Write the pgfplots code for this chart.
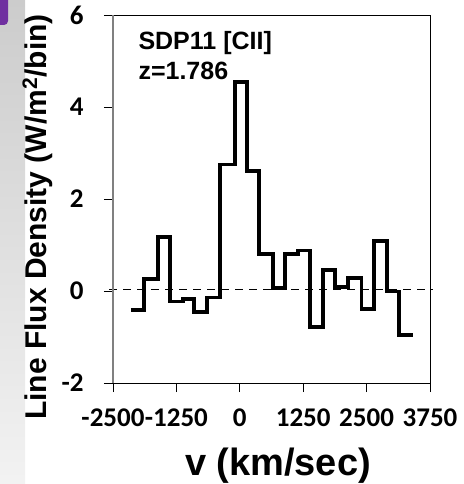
\documentclass[border=0pt]{standalone}
\usepackage{fontspec}
\setmainfont{Liberation Sans}
\newfontfamily\calibri{Carlito}
\usepackage{pgfplots}
\pgfplotsset{compat=1.18}
\definecolor{slidepurple}{RGB}{112,48,160}
\begin{document}
\begin{tikzpicture}
\useasboundingbox (0,0) rectangle (464bp,484bp);
\shade[top color=black!20, bottom color=black!5] (0,0) rectangle (25bp,484bp);
\fill[slidepurple, rounded corners=4bp] (-6bp,459bp) rectangle (8bp,490bp);
\begin{axis}[
  at={(113bp,101bp)}, anchor=south west,
  scale only axis, width=317bp, height=368bp,
  xmin=-2500, xmax=3750, ymin=-2, ymax=6,
  xtick={-2500,-1250,0,1250,2500,3750},
  xticklabels={-2500,-1250,0,1250,2500,3750},
  ytick={-2,0,2,4,6},
  yticklabels={-2,0,2,4,6},
  tick align=outside, major tick length=9bp,
  xtick pos=lower, ytick pos=left,
  tick style={black, line width=1bp},
  axis line style={black, line width=1bp},
  ticklabel style={font=\calibri\bfseries\fontsize{27bp}{32bp}\selectfont},
  xticklabel style={yshift=-13bp},
  yticklabel style={xshift=-17bp},
  clip=false,
]
\addplot[black, line width=3.8bp, const plot, line join=miter] coordinates {
(-2149,-0.41) (-1893,0.26) (-1617,1.17) (-1380,-0.23) (-1124,-0.18)
(-907,-0.46) (-650,-0.14) (-394,2.75) (-99,4.54) (138,2.61)
(375,0.80) (650,0.07) (887,0.80) (1143,0.88) (1380,-0.78)
(1636,0.45) (1873,0.08) (2130,0.28) (2400,-0.39) (2643,1.08)
(2898,-0.01) (3134,-0.95) (3410,-0.95)};
\addplot[black, line width=1.3bp, dash pattern=on 8bp off 6bp] coordinates {(-2570,0.04) (3810,0.04)};
\draw[gray, line width=1.5bp] (rel axis cs:0,0) -- (rel axis cs:0,1);
\end{axis}
\node[anchor=base west, font=\bfseries\fontsize{25bp}{30bp}\selectfont] at (135bp,434bp) {SDP11 [CII]};
\node[anchor=base west, font=\bfseries\fontsize{25bp}{30bp}\selectfont] at (135bp,404bp) {z=1.786};
\node[rotate=90, anchor=base, font=\bfseries\fontsize{30bp}{36bp}\selectfont] at (46bp,267bp) {Line Flux Density (W/m\textsuperscript{2}/bin)};
\node[anchor=base, font=\bfseries\fontsize{38bp}{44bp}\selectfont] at (278bp,9bp) {v (km/sec)};
\end{tikzpicture}
\end{document}
